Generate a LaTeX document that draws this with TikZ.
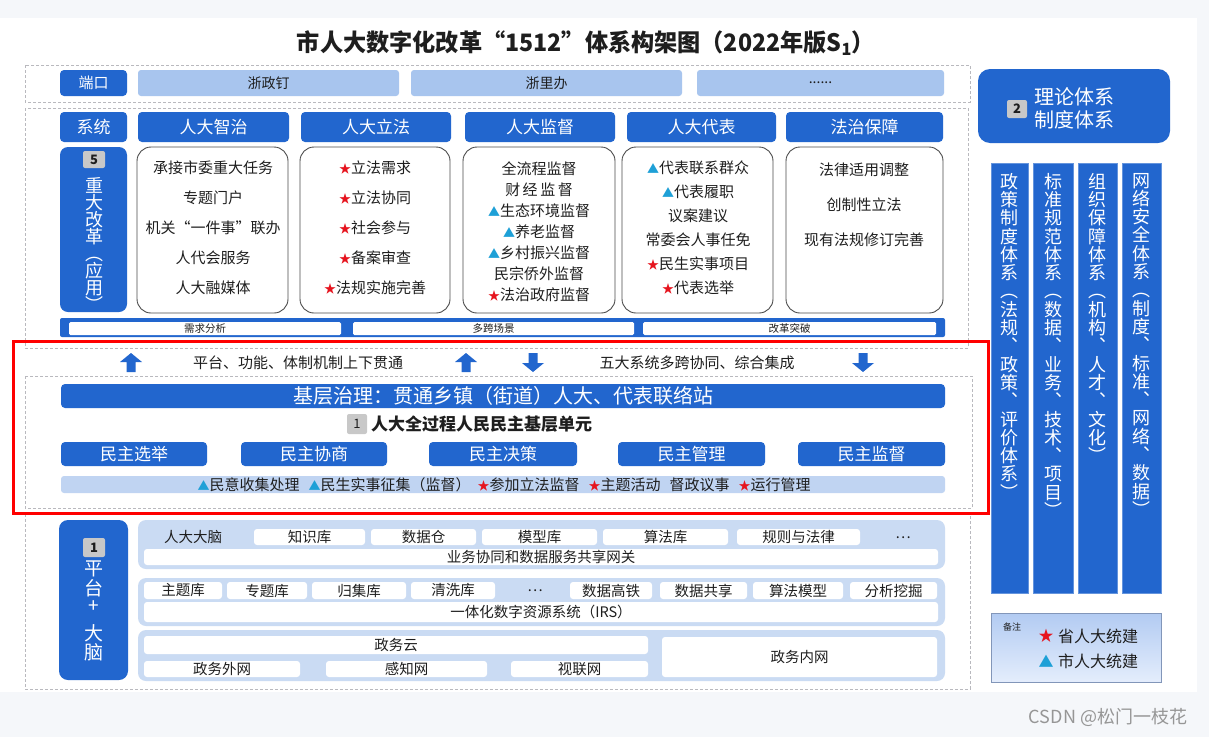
\documentclass[tikz,border=0pt]{standalone}
\usepackage{fontspec}
\setmainfont{Noto Sans CJK SC}
\definecolor{dblue}{RGB}{34,102,206}
\definecolor{lblue}{RGB}{168,197,238}
\definecolor{pblue}{RGB}{202,219,243}
\definecolor{gbar}{RGB}{192,212,242}
\definecolor{numgray}{RGB}{200,200,200}
\definecolor{txt}{RGB}{30,30,30}
\definecolor{starred}{RGB}{230,20,30}
\definecolor{tricyan}{RGB}{30,160,215}
\definecolor{dashgray}{RGB}{185,185,190}
\definecolor{bgc}{RGB}{245,247,250}
\definecolor{wm}{RGB}{150,150,150}
\newcommand{\fs}[1]{\fontsize{#1}{\dimexpr#1pt*6/5\relax}\selectfont}
\newcommand{\st}{{\color{starred}\fontsize{12}{12}\selectfont ★}}
\newcommand{\tri}{{\color{tricyan}\fontsize{12}{12}\selectfont ▲}}
\newcommand{\bx}[7][]{\node[#1,minimum width={(#4)-(#2)},minimum height={(#5)-(#3)}] (#6) at ({((#2)+(#4))/2},{((#3)+(#5))/2}) {#7};}
\newcommand{\tl}[4]{\node (#1) at (#2,#3) {#4};}
\newcommand{\uparr}[2]{\fill[dblue] (#1,353) -- (#1+11,362) -- (#1+4.5,362) -- (#1+4.5,372) -- (#1-4.5,372) -- (#1-4.5,362) -- (#1-11,362) -- cycle;}
\newcommand{\dnarr}[2]{\fill[dblue] (#1,372) -- (#1+11,363) -- (#1+4.5,363) -- (#1+4.5,353) -- (#1-4.5,353) -- (#1-4.5,363) -- (#1-11,363) -- cycle;}
\begin{document}
\begin{tikzpicture}[x=1pt,y=-1pt,
  every node/.style={inner sep=0pt,outer sep=0pt,text=txt},
  dk/.style={fill=dblue,text=white,rounded corners=4pt},
  lt/.style={fill=lblue,rounded corners=3pt},
  wb/.style={fill=white,rounded corners=3pt},
  cbox/.style={draw=black!70,line width=0.9pt,fill=white,rounded corners=14pt},
  dbox/.style={draw=dashgray,line width=0.8pt,dash pattern=on 3pt off 2pt},
  grp/.style={fill=pblue,rounded corners=8pt},
  num/.style={fill=numgray,rounded corners=2pt,font=\fs{13}\bfseries},
  vt/.style={align=center,anchor=north,text=white}]
\useasboundingbox (0,0) rectangle (1209,737);
\fill[bgc] (0,0) rectangle (1209,737);
\fill[white] (0,18) rectangle (1197,692);

% title
\node[xscale=0.965] (title) at (586,43) {\fs{24}\bfseries 市人大数字化改革“1512”体系构架图（2022年版S\textsubscript{1}）};

% dashed frames
\draw[dbox] (25,65) rectangle (970,102);
\draw[dbox] (25,108) rectangle (968,348);
\draw[dbox] (25,376) rectangle (972,508);
\draw[dbox] (25,514) rectangle (970,689);

% port row
\bx[dk]{60}{70}{127}{96}{duankou}{\fs{15}端口}
\bx[lt]{138}{70}{399}{96}{zzd}{\fs{14}浙政钉}
\bx[lt]{411}{70}{682}{96}{zlb}{\fs{14}浙里办}
\bx[lt]{697}{70}{944}{96}{pdots}{\fs{14}......}

% system headers
\bx[dk]{60}{112}{127}{142}{xitong}{\fs{17}系统}
\bx[dk]{138}{112}{289}{142}{hzz}{\fs{17}人大智治}
\bx[dk]{301}{112}{451}{142}{hlf}{\fs{17}人大立法}
\bx[dk]{465}{112}{615}{142}{hjd}{\fs{17}人大监督}
\bx[dk]{627}{112}{776}{142}{hdb}{\fs{17}人大代表}
\bx[dk]{786}{112}{943}{142}{hfz}{\fs{17}法治保障}

% reform box
\bx[dk,rounded corners=8pt]{60}{147}{127}{312}{zdgg}{}
\bx[num]{83}{151}{105}{168}{n5}{5}
\node[vt,font=\fontsize{18}{17}\selectfont] (zdggt) at (94,177) {重\\大\\改\\革\\︵\\应\\用\\︶};

% content boxes
\bx[cbox]{137}{147}{288}{313}{czz}{}
\bx[cbox]{300}{147}{450}{313}{clf}{}
\bx[cbox]{463}{147}{615}{313}{cjd}{}
\bx[cbox]{622}{147}{773}{313}{cdb}{}
\bx[cbox]{786}{147}{943}{313}{cfz}{}

\begin{scope}[every node/.append style={font=\fs{15}}]
\tl{z1}{213}{168}{承接市委重大任务}
\tl{z2}{213}{198}{专题门户}
\tl{z3}{213}{228}{机关“一件事”联办}
\tl{z4}{213}{258}{人代会服务}
\tl{z5}{213}{288}{人大融媒体}
\tl{l1}{375}{168}{\st 立法需求}
\tl{l2}{375}{198}{\st 立法协同}
\tl{l3}{375}{228}{\st 社会参与}
\tl{l4}{375}{258}{\st 备案审查}
\tl{l5}{375}{288}{\st 法规实施完善}
\tl{j1}{539}{169}{全流程监督}
\tl{j2}{539}{190}{财\,经\,监\,督}
\tl{j3}{539}{211}{\tri 生态环境监督}
\tl{j4}{539}{232}{\tri 养老监督}
\tl{j5}{539}{253}{\tri 乡村振兴监督}
\tl{j6}{539}{274}{民宗侨外监督}
\tl{j7}{539}{295}{\st 法治政府监督}
\tl{d1}{698}{168}{\tri 代表联系群众}
\tl{d2}{698}{192}{\tri 代表履职}
\tl{d3}{698}{216}{议案建议}
\tl{d4}{698}{240}{常委会人事任免}
\tl{d5}{698}{264}{\st 民生实事项目}
\tl{d6}{698}{288}{\st 代表选举}
\tl{f1}{864}{170}{法律适用调整}
\tl{f2}{864}{205}{创制性立法}
\tl{f3}{864}{240}{现有法规修订完善}
\end{scope}

% bottom bar of systems
\bx[dk,rounded corners=2pt]{60}{318}{945}{337}{sbar}{}
\bx[wb,rounded corners=1.5pt]{69}{322}{341}{335}{xqfx}{\fs{10.5}需求分析}
\bx[wb,rounded corners=1.5pt]{353}{322}{634}{335}{dkcj}{\fs{10.5}多跨场景}
\bx[wb,rounded corners=1.5pt]{643}{322}{936}{335}{ggtp}{\fs{10.5}改革突破}

% arrows row
\uparr{131}{}
\uparr{466}{}
\dnarr{533}{}
\dnarr{863}{}
\node (t1) at (298,363) {\fs{15}平台、功能、体制机制上下贯通};
\node (t2) at (697,363) {\fs{15}五大系统多跨协同、综合集成};

% grassroots
\bx[dk,rounded corners=4pt]{61}{384}{945}{408}{jczl}{\fs{20}基层治理：贯通乡镇（街道）人大、代表联络站}
\bx[num,font=\fs{13}]{347}{414}{367}{434}{n1a}{1}
\node[anchor=west] (jcdy) at (371,424) {\fs{17}\bfseries 人大全过程人民民主基层单元};
\bx[dk]{61}{442}{207}{466}{mzxj}{\fs{17}民主选举}
\bx[dk]{241}{442}{387}{466}{mzxs}{\fs{17}民主协商}
\bx[dk]{429}{442}{577}{466}{mzjc}{\fs{17}民主决策}
\bx[dk]{618}{442}{765}{466}{mzgl}{\fs{17}民主管理}
\bx[dk]{798}{442}{945}{466}{mzjd}{\fs{17}民主监督}
\bx[fill=gbar,rounded corners=3pt]{61}{476}{945}{493}{jcbar}{}
\node (jcbart) at (504,485) {\fs{15}\tri 民意收集处理\hspace{9pt}\tri 民生实事征集（监督）\hspace{7pt}\st 参加立法监督\hspace{9pt}\st 主题活动\hspace{9pt}督政议事\hspace{9pt}\st 运行管理};

% red frame
\draw[red,line width=3pt] (13.5,341.5) rectangle (988.5,513);

% platform
\bx[dk,rounded corners=9pt]{59}{520}{128}{680}{ptdn}{}
\bx[num]{83}{538}{105}{557}{n1b}{1}
\begin{scope}[every node/.append style={text=white,font=\fs{19}}]
\tl{pa}{94}{569}{平}
\tl{pb}{94}{588}{台}
\tl{pc}{94}{607}{+}
\tl{pd}{94}{633}{大}
\tl{pe}{94}{652}{脑}
\end{scope}

\bx[grp]{138}{520}{945}{569}{g1}{}
\bx[grp]{138}{578}{945}{626}{g2}{}
\bx[grp]{138}{630}{945}{681}{g3}{}
\begin{scope}[every node/.append style={font=\fs{14.5}}]
\tl{rdnn}{193}{537}{人大大脑}
\bx[wb]{254}{529}{365}{545}{zsk}{知识库}
\bx[wb]{371}{529}{476}{545}{sjc}{数据仓}
\bx[wb]{482}{529}{597}{545}{mxk}{模型库}
\bx[wb]{603}{529}{728}{545}{sfk}{算法库}
\bx[wb]{737}{529}{860}{545}{gzfl}{规则与法律}
\tl{g1dots}{903}{538}{…}
\bx[wb]{144}{549}{938}{565}{ywxt}{业务协同和数据服务共享网关}
\bx[wb]{144}{582}{222}{599}{ztk}{主题库}
\bx[wb]{227}{582}{307}{599}{zhtk}{专题库}
\bx[wb]{312}{582}{406}{599}{gjk}{归集库}
\bx[wb]{411}{582}{495}{599}{qxk}{清洗库}
\tl{g2dots}{535}{591}{…}
\bx[wb]{570}{582}{652}{599}{sjgt}{数据高铁}
\bx[wb]{660}{582}{747}{599}{sjgx}{数据共享}
\bx[wb]{753}{582}{843}{599}{sfmx}{算法模型}
\bx[wb]{850}{582}{937}{599}{fxwj}{分析挖掘}
\bx[wb]{144}{602}{938}{622}{irs}{一体化数字资源系统（IRS）}
\bx[wb]{144}{636}{648}{654}{zwy}{政务云}
\bx[wb]{144}{661}{300}{677}{zwww}{政务外网}
\bx[wb]{326}{661}{487}{677}{gzw}{感知网}
\bx[wb]{511}{661}{648}{677}{slw}{视联网}
\bx[wb]{662}{637}{937}{677}{zwnw}{政务内网}
\end{scope}

% right panel
\bx[dk,rounded corners=12pt]{978}{69}{1170}{143}{llti}{}
\bx[num]{1007}{100}{1027}{118}{n2}{2}
\node[align=left,text=white,font=\fontsize{20}{23}\selectfont] (lltit) at (1074,108.5) {理论体系\\制度体系};

\bx[dk,rounded corners=0pt,draw=dblue!70]{991}{163}{1028}{593}{col1}{}
\bx[dk,rounded corners=0pt,draw=dblue!70]{1033}{163}{1073}{593}{col2}{}
\bx[dk,rounded corners=0pt,draw=dblue!70]{1078}{163}{1117}{593}{col3}{}
\bx[dk,rounded corners=0pt,draw=dblue!70]{1122}{163}{1161}{593}{col4}{}
\begin{scope}[every node/.append style={vt,font=\fontsize{18}{18.3}\selectfont}]
\node (c1t) at (1009.5,173) {政\\策\\制\\度\\体\\系\\︵\\法\\规\\︑\\政\\策\\︑\\评\\价\\体\\系\\︶};
\node (c2t) at (1053,173) {标\\准\\规\\范\\体\\系\\︵\\数\\据\\︑\\业\\务\\︑\\技\\术\\︑\\项\\目\\︶};
\node (c3t) at (1097.5,173) {组\\织\\保\\障\\体\\系\\︵\\机\\构\\︑\\人\\才\\︑\\文\\化\\︶};
\node (c4t) at (1141.5,173) {网\\络\\安\\全\\体\\系\\︵\\制\\度\\︑\\标\\准\\︑\\网\\络\\︑\\数\\据\\︶};
\end{scope}

% legend
\bx[draw={rgb,255:red,130;green,150;blue,185},line width=0.8pt,top color={rgb,255:red,178;green,203;blue,242},bottom color={rgb,255:red,228;green,237;blue,252}]{991}{613}{1161}{682}{legend}{}
\node (bz) at (1012,627) {\fs{9}备注};
\node (lst) at (1046,636) {\color{starred}\fs{15}★};
\node[anchor=west] (lsttx) at (1058,636) {\fs{16}省人大统建};
\node (ltri) at (1046,661) {\color{tricyan}\fs{15}▲};
\node[anchor=west] (ltritx) at (1058,661) {\fs{16}市人大统建};

% watermark
\node[text=wm] (wmark) at (1108,717) {\fs{18}CSDN @松门一枝花};
\end{tikzpicture}
\end{document}
